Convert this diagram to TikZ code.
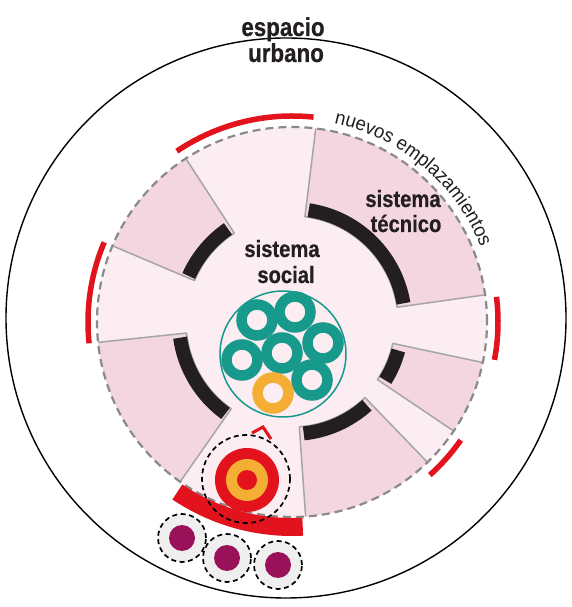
\documentclass[tikz,border=0pt]{standalone}
\usepackage{fontspec}
\setmainfont{Liberation Sans}
\newfontfamily\lblfont{Liberation Sans}[FakeStretch=0.86, BoldFeatures={FakeBold=0.6}]
\newfontfamily\nfont{Liberation Sans}[FakeStretch=0.95]
\usetikzlibrary{calc,decorations.text}
\definecolor{lightpink}{HTML}{FCEDF3}
\definecolor{secpink}{HTML}{F4D6E1}
\definecolor{edgegrey}{HTML}{A5A5A5}
\definecolor{dashgrey}{HTML}{8A8A8A}
\definecolor{tealc}{HTML}{17998B}
\definecolor{orangec}{HTML}{F4AE33}
\definecolor{redc}{HTML}{E3131E}
\definecolor{purplec}{HTML}{991259}
\definecolor{inkc}{HTML}{231F20}
\definecolor{dotfill}{HTML}{EFEFEF}
\tikzset{
  edge/.style={draw=edgegrey, line width=1.5pt, line join=round},
  blackarc/.style={draw=inkc, line width=14pt},
  ringc/.style={line width=10.5pt},
  smalldash/.style={draw=black, line width=1.7pt, dash pattern=on 5pt off 3.5pt},
  biglbl/.style={font={\lblfont\bfseries\fontsize{26}{26}\selectfont}, text=inkc, inner sep=0pt, anchor=base},
  midlbl/.style={font={\lblfont\bfseries\fontsize{23.5}{23.5}\selectfont}, text=inkc, inner sep=0pt, anchor=base},
}
\newcommand\mysector[3]{%
  \fill[secpink] ($(C)+(#1:#3)$) -- ($(C)+(#1:195)$) arc[start angle=#1,end angle=#2,radius=195pt]
     -- ($(C)+(#2:#3)$) arc[start angle=#2,end angle=#1,radius=#3pt] -- cycle;
  \draw[edge] ($(C)+(#1:195)$) -- ($(C)+(#1:#3)$) arc[start angle=#1,end angle=#2,radius=#3pt] -- ($(C)+(#2:195)$);
}
\newcommand\myblack[3]{%
  \draw[blackarc] ($(C)+(#1:#3)$) arc[start angle=#1,end angle=#2,radius=#3pt];
}
\newcommand\myred[4]{%
  \draw[draw=redc, line width=#4pt] ($(C)+(#1:#3)$) arc[start angle=#1,end angle=#2,radius=#3pt];
}
\begin{document}
\begin{tikzpicture}[x=1pt,y=1pt]
\useasboundingbox (0,0) rectangle (571,607);
\fill[white] (0,0) rectangle (571,607);
\coordinate (O) at (286,289);
\coordinate (C) at (292,285);
\coordinate (T) at (283,253);
% outer urban space
\draw[line width=1.4pt] (O) circle[radius=280pt];
% disk of the system
\fill[lightpink] (C) circle[radius=195pt];
% technical sectors
\mysector{8}{83}{106}
\mysector{-34}{-12}{103}
\mysector{-86}{-46}{105}
\mysector{186}{235}{106}
\mysector{123}{157}{106}
% black arcs
\myblack{81.5}{9.5}{113}
\myblack{-15}{-32}{110}
\myblack{-84}{-48}{112}
\myblack{188}{234}{113}
\myblack{124.5}{156}{113}
% dashed boundary
\draw[draw=dashgrey, line width=2.2pt, dash pattern=on 8pt off 5pt] (C) circle[radius=195pt];
% red arcs (new sites)
\myred{84}{124}{206}{5.5}
\myred{157}{186}{204}{5.5}
\myred{-10.6}{7}{206}{5.5}
\myred{-48}{-35}{206}{5.5}
\myred{236}{273}{205}{18}
% social system
\draw[draw=tealc, line width=1.5pt] (T) circle[radius=63pt];
\foreach \p in {(257,287),(295,295),(323,264),(282,254),(242,247),(312,227)}
  \draw[draw=tealc, ringc] \p circle[radius=15.5pt];
\draw[draw=orangec, ringc] (273,214) circle[radius=15.5pt];
% target
\fill[redc] (247,127) circle[radius=32pt];
\fill[orangec] (247,127) circle[radius=21pt];
\fill[redc] (247,127) circle[radius=10pt];
\draw[smalldash] (246,128) circle[radius=44pt];
\draw[draw=redc, line width=3pt, line join=miter] (252,174) -- (263,180) -- (271,168);
% purple dots
\foreach \p in {(182,69),(227,49),(278,42)} {
  \draw[smalldash, fill=dotfill] \p circle[radius=24pt];
  \fill[purplec] \p circle[radius=13pt];
}
% labels
\node[biglbl] (esp) at (283,571) {espacio};
\node[biglbl] (urb) at (286,545) {urbano};
\node[midlbl] (st1) at (403,400) {sistema};
\node[midlbl] (st2) at (406,375) {técnico};
\node[midlbl] (ss1) at (282,350) {sistema};
\node[midlbl] (ss2) at (286,324) {social};
\path[decorate, decoration={text along path, text color=inkc,
   text={|\nfont\fontsize{19.5}{19.5}\selectfont|nuevos emplazamientos}, text align=left}]
   ($(C)+(78:203)$) arc[start angle=78, end angle=21, radius=203pt];
\end{tikzpicture}
\end{document}
